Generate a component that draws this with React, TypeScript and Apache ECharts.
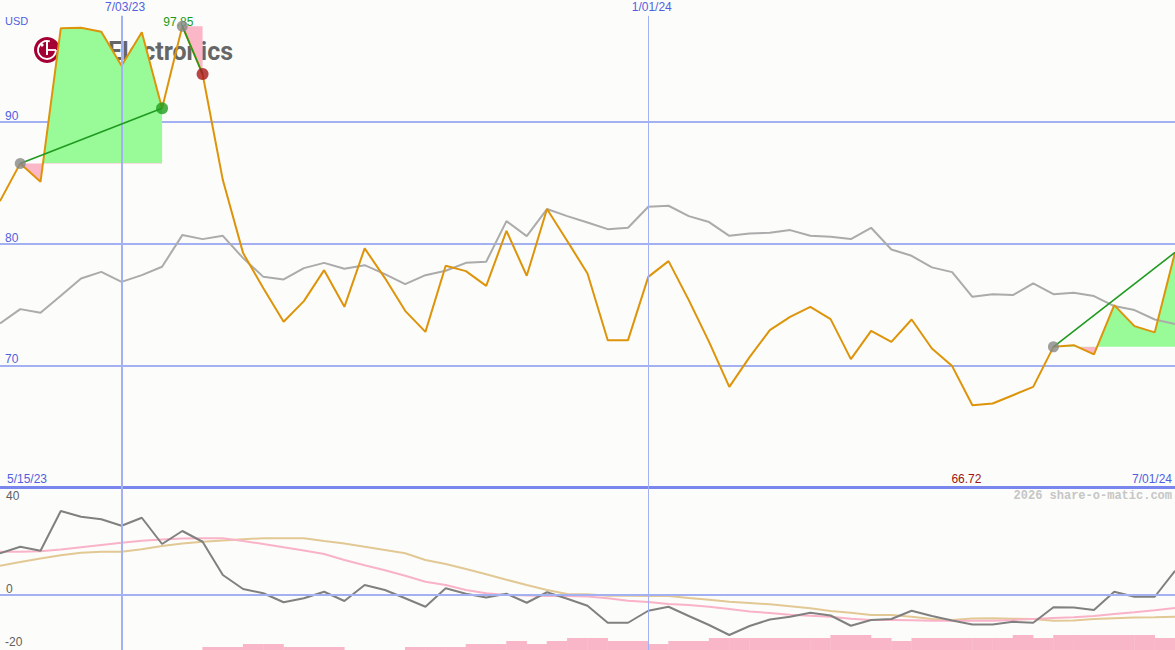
import React, { useEffect, useRef } from "react";
import * as echarts from "echarts";

// ---------- data ----------
const currency = "USD";
const startDateLabel = "5/15/23";
const endDateLabel = "7/01/24";
const watermark = "2026 share-o-matic.com";
const companyName = "Electronics";

// weekly points, index 0 = 5/22/23 ... index 58 = 7/01/24
const dateMarks = [
  { index: 6, label: "7/03/23", width: 2 },
  { index: 32, label: "1/01/24", width: 1 },
];

const oscLabels = [40, 0, -20];

const price = [
  83.48, 86.58, 85.07, 97.67, 97.72, 97.4, 94.6, 97.35, 91.1, 97.85,
  93.92, 85.21, 79.21, 76.33, 73.57, 75.27, 77.81, 74.8, 79.6, 77.16,
  74.47, 72.74, 78.17, 77.73, 76.52, 81.04, 77.35, 82.83, 80.2, 77.54,
  72.06, 72.06, 77.26, 78.55, 75.35, 71.92, 68.22, 70.67, 72.88, 73.98,
  74.8, 73.79, 70.5, 72.83, 71.92, 73.76, 71.38, 69.93, 66.72, 66.86,
  67.54, 68.22, 71.51, 71.65, 70.89, 74.94, 73.21, 72.7, 79.27,
];

const compare = [
  73.43, 74.61, 74.31, 75.7, 77.13, 77.67, 76.85, 77.4, 78.09, 80.69,
  80.36, 80.63, 78.8, 77.26, 77.05, 77.98, 78.41, 77.92, 78.22, 77.49,
  76.66, 77.4, 77.76, 78.41, 78.5, 81.84, 80.61, 82.83, 82.25, 81.72,
  81.18, 81.29, 83.02, 83.1, 82.25, 81.76, 80.63, 80.83, 80.88, 81.1,
  80.63, 80.55, 80.36, 81.29, 79.51, 78.99, 78.04, 77.65, 75.62, 75.84,
  75.76, 76.72, 75.84, 75.95, 75.68, 74.86, 74.53, 73.76, 73.38,
];

const momentum = [
  16.7, 19.3, 17.7, 33.6, 31.3, 30.3, 27.7, 30.9, 20.4, 25.6,
  21.3, 8.0, 2.4, 0.7, -2.9, -1.3, 1.3, -2.4, 4.0, 2.0,
  -1.3, -4.7, 2.7, 0.5, -1.0, 0.5, -3.1, 1.1, -1.5, -4.3,
  -11.1, -11.1, -6.3, -4.7, -8.4, -12.0, -16.0, -12.4, -9.8, -8.7,
  -7.1, -8.2, -12.3, -10.0, -9.6, -6.3, -8.4, -10.2, -11.8, -11.8,
  -10.7, -11.1, -4.9, -5.0, -6.0, 1.3, -0.7, -0.7, 9.7,
];

const momentumFast = [
  17.3, 17.3, 17.5, 18.2, 19.1, 20.0, 20.9, 21.7, 22.2, 22.6,
  22.7, 22.7, 21.6, 20.4, 19.1, 17.8, 16.4, 14.0, 11.9, 9.9,
  7.7, 5.3, 4.0, 2.0, 0.7, 0.0, -0.2, -0.4, -0.4, -0.6,
  -1.3, -2.3, -2.8, -3.6, -4.0, -4.7, -5.6, -6.6, -7.2, -7.9,
  -8.3, -8.7, -9.5, -10.0, -10.0, -10.1, -10.3, -10.3, -10.3, -10.3,
  -10.0, -9.6, -9.2, -8.9, -8.4, -7.6, -6.9, -6.1, -5.2,
];

const momentumSlow = [
  11.7, 13.2, 14.6, 15.9, 16.9, 17.3, 17.3, 18.3, 19.6, 20.6,
  21.3, 21.8, 22.3, 22.7, 22.7, 22.7, 21.6, 20.6, 19.3, 18.0,
  16.7, 14.0, 12.4, 10.4, 8.3, 6.1, 4.0, 2.0, 0.4, 0.3,
  -0.3, -0.3, -0.4, -0.4, -1.2, -1.9, -2.7, -3.2, -3.7, -4.5,
  -5.3, -6.4, -7.1, -8.0, -8.0, -8.7, -9.6, -10.0, -9.4, -9.3,
  -9.5, -9.6, -10.3, -10.2, -9.6, -9.3, -9.0, -8.9, -8.7,
];

// weekly volume level, bar i spans week i .. i+1
const volumeLevel = [
  0, 0, 0, 0, 0, 0, 0, 0, 0, 0,
  1, 1, 2, 2, 1, 1, 1, 0, 0, 0,
  1, 1, 1, 2, 2, 3, 2, 3, 4, 4,
  3, 3, 2, 3, 3, 4, 4, 4, 4, 4,
  4, 5, 5, 4, 3, 4, 4, 4, 4, 4,
  5, 4, 5, 5, 5, 5, 5, 4,
];

const trades = [
  { entry: 1, exit: 8, open: false },
  { entry: 9, exit: 10, open: false },
  { entry: 52, exit: 58, open: true },
];

// ---------- styles ----------
const BG = "#fcfdfa";
const BLUE_TEXT = "#5060e0";
const GRID_BLUE = "#a3b0f2";
const SEP_BLUE = "#7886ee";
const ORANGE = "#de940a";
const GRAY = "#ababab";
const DARK_GRAY = "#808080";
const PINK = "#f9b2c8";
const TAN = "#e2c894";
const FILL_GREEN = "#98fb98";
const FILL_PINK = "#fbb6c8";
const TRADE_GREEN = "#1f9a1f";
const FONT = "Liberation Sans";

export default function App() {
  const ref = useRef<HTMLDivElement>(null);

  useEffect(() => {
    document.body.style.margin = "0";
    const chart = echarts.init(ref.current as HTMLDivElement, null, { renderer: "svg" });

    const n = price.length;
    const xMax = n - 1;
    const xy = (arr: number[]) => arr.map((v, i) => [i, v]);
    const yTop = 100;
    const pMin = Math.min(...price);
    const minIdx = price.indexOf(pMin);
    const pMax = Math.max(...price);
    const maxIdx = price.indexOf(pMax);

    const fillSeries = trades.map((t) => ({
      type: "line",
      xAxisIndex: 0,
      yAxisIndex: 0,
      data: xy(price).slice(t.entry, t.exit + 1),
      symbol: "none",
      silent: true,
      z: 2,
      lineStyle: { width: 0, opacity: 0 },
      areaStyle: { origin: price[t.entry], opacity: 1 },
    }));

    const visualMaps = trades.map((t, k) => ({
      type: "piecewise",
      show: false,
      seriesIndex: k,
      dimension: 1,
      pieces: [
        { gte: 0, lt: price[t.entry], color: FILL_PINK },
        { gte: price[t.entry], lte: 1000, color: FILL_GREEN },
      ],
    }));

    const tradeLines = trades.map((t) => ({
      type: "line",
      xAxisIndex: 0,
      yAxisIndex: 0,
      data: [
        [t.entry, price[t.entry]],
        [t.exit, price[t.exit]],
      ],
      symbol: "none",
      silent: true,
      z: 5,
      lineStyle: { color: TRADE_GREEN, width: 1.6 },
    }));

    const entries = trades.map((t) => [t.entry, price[t.entry]]);
    const winExits = trades
      .filter((t) => !t.open && price[t.exit] >= price[t.entry])
      .map((t) => [t.exit, price[t.exit]]);
    const lossExits = trades
      .filter((t) => !t.open && price[t.exit] < price[t.entry])
      .map((t) => [t.exit, price[t.exit]]);

    const txt = (
      text: string,
      x: number,
      y: number,
      fill: string,
      align = "left",
      size = 12,
      family = FONT,
      weight = "normal"
    ) => ({
      type: "text",
      x,
      y,
      z: 10,
      silent: true,
      style: {
        text,
        fill,
        fontSize: size,
        fontFamily: family,
        fontWeight: weight,
        align,
        verticalAlign: "middle",
      },
    });

    const option: any = {
      animation: false,
      backgroundColor: BG,
      grid: [
        { left: 0, right: 0, top: 0, height: 487 },
        { left: 0, right: 0, top: 487, height: 163 },
      ],
      xAxis: [
        {
          type: "value",
          gridIndex: 0,
          min: 0,
          max: xMax,
          position: "bottom",
          axisLine: { show: true, onZero: false, lineStyle: { color: SEP_BLUE, width: 3 } },
          axisTick: { show: false },
          axisLabel: { show: false },
          splitLine: { show: false },
        },
        {
          type: "value",
          gridIndex: 1,
          min: 0,
          max: xMax,
          axisLine: { show: false },
          axisTick: { show: false },
          axisLabel: { show: false },
          splitLine: { show: false },
        },
      ],
      yAxis: [
        {
          type: "value",
          gridIndex: 0,
          min: 60,
          max: yTop,
          interval: 10,
          axisLine: { show: false },
          axisTick: { show: false },
          axisLabel: {
            inside: true,
            margin: 5,
            color: BLUE_TEXT,
            fontSize: 12,
            fontFamily: FONT,
            verticalAlign: "bottom",
            showMinLabel: false,
            showMaxLabel: false,
          },
          splitLine: {
            show: true,
            showMinLine: false,
            showMaxLine: false,
            lineStyle: { color: GRID_BLUE, width: 2 },
          },
        },
        {
          type: "value",
          gridIndex: 1,
          min: -22,
          max: 43.2,
          axisLine: { show: false },
          axisTick: { show: false },
          axisLabel: { show: false },
          splitLine: { show: false },
        },
        {
          type: "value",
          gridIndex: 1,
          min: 0,
          max: 163 / 3,
          axisLine: { show: false },
          axisTick: { show: false },
          axisLabel: { show: false },
          splitLine: { show: false },
        },
      ],
      visualMap: visualMaps,
      series: [
        ...fillSeries,
        // helper carrying the date markLines (top panel)
        {
          type: "line",
          xAxisIndex: 0,
          yAxisIndex: 0,
          data: xy(price),
          symbol: "none",
          silent: true,
          z: 1,
          lineStyle: { width: 0, opacity: 0 },
          markLine: {
            silent: true,
            symbol: ["none", "none"],
            label: {
              show: true,
              position: "start",
              distance: 3,
              padding: [0, 0, 0, 7],
              color: BLUE_TEXT,
              fontSize: 12,
              fontFamily: FONT,
            },
            data: dateMarks.map((d) => [
              {
                coord: [d.index, 98.7],
                label: { formatter: d.label },
                lineStyle: { color: GRID_BLUE, width: d.width, type: "solid" },
              },
              { coord: [d.index, 60] },
            ]),
          },
        },
        {
          type: "line",
          xAxisIndex: 0,
          yAxisIndex: 0,
          data: xy(compare),
          symbol: "none",
          silent: true,
          z: 3,
          lineStyle: { color: GRAY, width: 2 },
        },
        {
          type: "line",
          xAxisIndex: 0,
          yAxisIndex: 0,
          data: xy(price),
          symbol: "none",
          silent: true,
          z: 4,
          lineStyle: { color: ORANGE, width: 2 },
          markPoint: {
            silent: true,
            symbol: "circle",
            symbolSize: 0,
            data: [
              {
                coord: [maxIdx, pMax],
                value: pMax.toFixed(2),
                label: {
                  show: true,
                  position: "inside",
                  offset: [-4, -4],
                  color: "#1a9a1a",
                  fontSize: 12,
                  fontFamily: FONT,
                  formatter: "{c}",
                },
              },
              {
                coord: [minIdx, 60],
                value: pMin.toFixed(2),
                label: {
                  show: true,
                  position: "inside",
                  offset: [-6, -8],
                  color: "#9a1515",
                  fontSize: 12,
                  fontFamily: FONT,
                  formatter: "{c}",
                },
              },
            ],
          },
        },
        ...tradeLines,
        {
          type: "scatter",
          xAxisIndex: 0,
          yAxisIndex: 0,
          data: entries,
          symbolSize: 11,
          silent: true,
          z: 6,
          itemStyle: { color: "#878787" },
        },
        {
          type: "scatter",
          xAxisIndex: 0,
          yAxisIndex: 0,
          data: winExits,
          symbolSize: 12,
          silent: true,
          z: 6,
          itemStyle: { color: "#1f9d1f" },
        },
        {
          type: "scatter",
          xAxisIndex: 0,
          yAxisIndex: 0,
          data: lossExits,
          symbolSize: 12,
          silent: true,
          z: 6,
          itemStyle: { color: "#a8181a" },
        },
        // lower panel
        {
          type: "bar",
          xAxisIndex: 1,
          yAxisIndex: 2,
          data: volumeLevel
            .map((v, i) => (v ? [i + 0.5, v] : null))
            .filter((d) => d !== null),
          barWidth: 1175 / xMax + 0.4,
          silent: true,
          z: 1,
          itemStyle: { color: "#fab6c9" },
        },
        {
          type: "line",
          xAxisIndex: 1,
          yAxisIndex: 1,
          data: xy(momentum),
          symbol: "none",
          silent: true,
          z: 1,
          lineStyle: { width: 0, opacity: 0 },
          markLine: {
            silent: true,
            symbol: ["none", "none"],
            label: { show: false },
            data: [
              ...dateMarks.map((d) => ({
                xAxis: d.index,
                lineStyle: { color: GRID_BLUE, width: d.width, type: "solid" },
              })),
              { yAxis: 0, lineStyle: { color: GRID_BLUE, width: 2, type: "solid" } },
            ],
          },
        },
        {
          type: "line",
          xAxisIndex: 1,
          yAxisIndex: 1,
          data: xy(momentumSlow),
          symbol: "none",
          silent: true,
          z: 2,
          lineStyle: { color: TAN, width: 2 },
        },
        {
          type: "line",
          xAxisIndex: 1,
          yAxisIndex: 1,
          data: xy(momentumFast),
          symbol: "none",
          silent: true,
          z: 3,
          lineStyle: { color: PINK, width: 2 },
        },
        {
          type: "line",
          xAxisIndex: 1,
          yAxisIndex: 1,
          data: xy(momentum),
          symbol: "none",
          silent: true,
          z: 4,
          lineStyle: { color: DARK_GRAY, width: 2 },
        },
      ],
      graphic: [
        // LG logo
        { type: "circle", z: 1, silent: true, shape: { cx: 47, cy: 50, r: 13 }, style: { fill: "#a50034" } },
        {
          type: "arc",
          z: 1,
          silent: true,
          shape: { cx: 47, cy: 50, r: 9, startAngle: 0, endAngle: Math.PI * 1.6, clockwise: true },
          style: { stroke: "#ffffff", lineWidth: 1.8, fill: "none" },
        },
        { type: "line", z: 1, silent: true, shape: { x1: 47, y1: 41, x2: 47, y2: 55 }, style: { stroke: "#ffffff", lineWidth: 2 } },
        { type: "line", z: 1, silent: true, shape: { x1: 47, y1: 50, x2: 56, y2: 50 }, style: { stroke: "#ffffff", lineWidth: 1.8 } },
        { type: "circle", z: 1, silent: true, shape: { cx: 42, cy: 45, r: 1.6 }, style: { fill: "#ffffff" } },
        {
          type: "text",
          z: 1,
          silent: true,
          x: 108,
          y: 51,
          style: {
            text: companyName,
            fill: "#666666",
            fontSize: 25,
            fontFamily: "Roboto",
            fontWeight: "bold",
            align: "left",
            verticalAlign: "middle",
          },
        },
        txt(currency, 5, 21, BLUE_TEXT, "left", 11),
        txt(startDateLabel, 7, 479, BLUE_TEXT, "left", 12),
        txt(endDateLabel, 1172, 479, BLUE_TEXT, "right", 12),
        txt(String(oscLabels[0]), 6, 496, "#606060", "left", 12),
        txt(String(oscLabels[1]), 6, 589, "#606060", "left", 12),
        txt(String(oscLabels[2]), 5, 642, "#606060", "left", 12),
        txt(watermark, 1172, 496, "#c6c6c6", "right", 12, "Liberation Mono", "bold"),
      ],
    };

    chart.setOption(option);
    return () => chart.dispose();
  }, []);

  return <div ref={ref} style={{ width: 1175, height: 650, background: BG }} />;
}
